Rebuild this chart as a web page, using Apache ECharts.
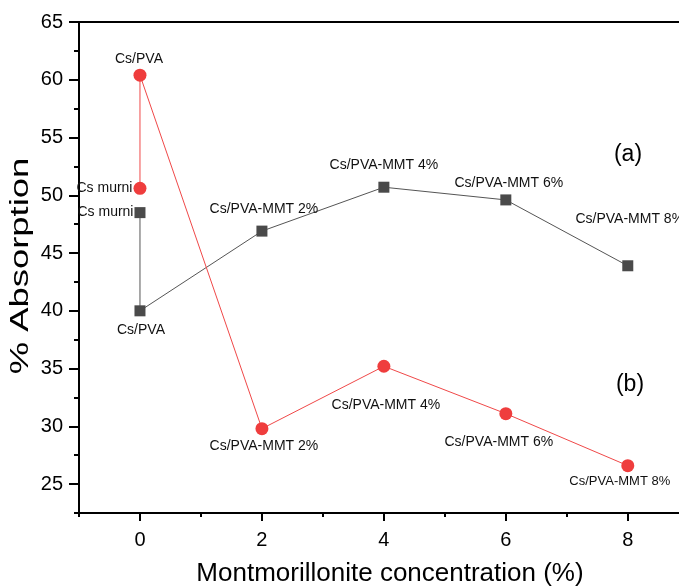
<!DOCTYPE html>
<html>
<head>
<meta charset="utf-8">
<script src="https://cdn.jsdelivr.net/npm/echarts@6/dist/echarts.min.js"></script>
<style>
html,body{margin:0;padding:0;background:#fff;}
#chart{width:679px;height:587px;}
</style>
</head>
<body>
<div id="chart"></div>
<script>
// ---- data ----
const concentrations = [0, 0, 2, 4, 6, 8];
const sampleNames = ['Cs murni', 'Cs/PVA', 'Cs/PVA-MMT 2%', 'Cs/PVA-MMT 4%', 'Cs/PVA-MMT 6%', 'Cs/PVA-MMT 8%'];
const seriesA = [48.5, 40.0, 46.9, 50.7, 49.6, 43.9];   // (a) black squares
const seriesB = [50.6, 60.4, 29.8, 35.2, 31.1, 26.6];   // (b) red circles
const xMajorTicks = [0, 2, 4, 6, 8];
const xMinorTicks = [-1, 1, 3, 5, 7];
const yMajorTicks = [25, 30, 35, 40, 45, 50, 55, 60, 65];
const yMinorTicks = [22.5, 27.5, 32.5, 37.5, 42.5, 47.5, 52.5, 57.5, 62.5];
const xTitle = 'Montmorillonite concentration (%)';
const yTitle = '% Absorption';

// ---- label placement (style only) ----
const labelOffsetsA = [null, [1, 19], [2, -21.5], [0, -22], [3, -17], [2, -47]];
const labelOffsetsB = [null, [-1, -16], [2, 17], [2, 38.5], [-7, 28.5], [-8, 16]];
const labelSizesB = [14, 14, 14, 14, 14, 13];

function buildData(values, offsets, sizes) {
  return values.map((v, i) => {
    const label = offsets[i] === null
      ? { show: true, position: 'left', distance: 1 }
      : { show: true, position: 'inside', offset: offsets[i] };
    label.formatter = sampleNames[i];
    label.color = '#111';
    label.fontSize = sizes ? sizes[i] : 14;
    label.fontFamily = 'Liberation Sans';
    return { value: [concentrations[i], v], label: label };
  });
}

const chart = echarts.init(document.getElementById('chart'));
const FONT = 'Liberation Sans';
const axisCommonX = { type: 'value', min: -1, max: 8.84, splitLine: { show: false } };
const axisCommonY = { type: 'value', min: 22.5, max: 65, splitLine: { show: false } };

chart.setOption({
  animation: false,
  backgroundColor: '#fff',
  grid: { left: 79, top: 22, bottom: 74, right: 0, containLabel: false },
  xAxis: [
    Object.assign({}, axisCommonX, {
      position: 'bottom',
      axisLine: { show: true, onZero: false, lineStyle: { color: '#000', width: 2 } },
      axisTick: { show: true, customValues: xMajorTicks, length: 8, lineStyle: { color: '#000', width: 2 } },
      axisLabel: { show: true, customValues: xMajorTicks, fontSize: 20, color: '#000', fontFamily: FONT, margin: 17 }
    }),
    Object.assign({}, axisCommonX, {
      position: 'bottom',
      axisLine: { show: false, onZero: false },
      axisTick: { show: true, customValues: xMinorTicks, length: 4, lineStyle: { color: '#000', width: 2 } },
      axisLabel: { show: false }
    }),
    Object.assign({}, axisCommonX, {
      position: 'top',
      axisLine: { show: true, onZero: false, lineStyle: { color: '#000', width: 2 } },
      axisTick: { show: false },
      axisLabel: { show: false }
    })
  ],
  yAxis: [
    Object.assign({}, axisCommonY, {
      position: 'left',
      axisLine: { show: true, onZero: false, lineStyle: { color: '#000', width: 2 } },
      axisTick: { show: true, customValues: yMajorTicks, length: 10, lineStyle: { color: '#000', width: 2 } },
      axisLabel: { show: true, customValues: yMajorTicks, fontSize: 20, color: '#000', fontFamily: FONT, margin: 16 }
    }),
    Object.assign({}, axisCommonY, {
      position: 'left',
      axisLine: { show: false, onZero: false },
      axisTick: { show: true, customValues: yMinorTicks, length: 5, lineStyle: { color: '#000', width: 2 } },
      axisLabel: { show: false }
    })
  ],
  graphic: [
    {
      type: 'text', x: 21, y: 266, rotation: Math.PI / 2, scaleX: 1.4,
      style: { text: yTitle, fontSize: 26, fontFamily: FONT, fill: '#000', textAlign: 'center', textVerticalAlign: 'middle' }
    },
    {
      type: 'text', x: 390, y: 574,
      style: { text: xTitle, fontSize: 26, fontFamily: FONT, fill: '#000', textAlign: 'center', textVerticalAlign: 'middle' }
    },
    {
      type: 'text', x: 628, y: 155,
      style: { text: '(a)', fontSize: 23, fontFamily: FONT, fill: '#000', textAlign: 'center', textVerticalAlign: 'middle' }
    },
    {
      type: 'text', x: 630, y: 385,
      style: { text: '(b)', fontSize: 23, fontFamily: FONT, fill: '#000', textAlign: 'center', textVerticalAlign: 'middle' }
    }
  ],
  series: [
    {
      name: '(a)', type: 'line', xAxisIndex: 0, yAxisIndex: 0,
      symbol: 'rect', symbolSize: 11,
      itemStyle: { color: '#4a4a4a' },
      lineStyle: { color: '#555', width: 1 },
      data: buildData(seriesA, labelOffsetsA, null),
      z: 3
    },
    {
      name: '(b)', type: 'line', xAxisIndex: 0, yAxisIndex: 0,
      symbol: 'circle', symbolSize: 13,
      itemStyle: { color: '#ef3d3d' },
      lineStyle: { color: '#f04848', width: 1 },
      data: buildData(seriesB, labelOffsetsB, labelSizesB),
      z: 4
    }
  ]
});
</script>
</body>
</html>
